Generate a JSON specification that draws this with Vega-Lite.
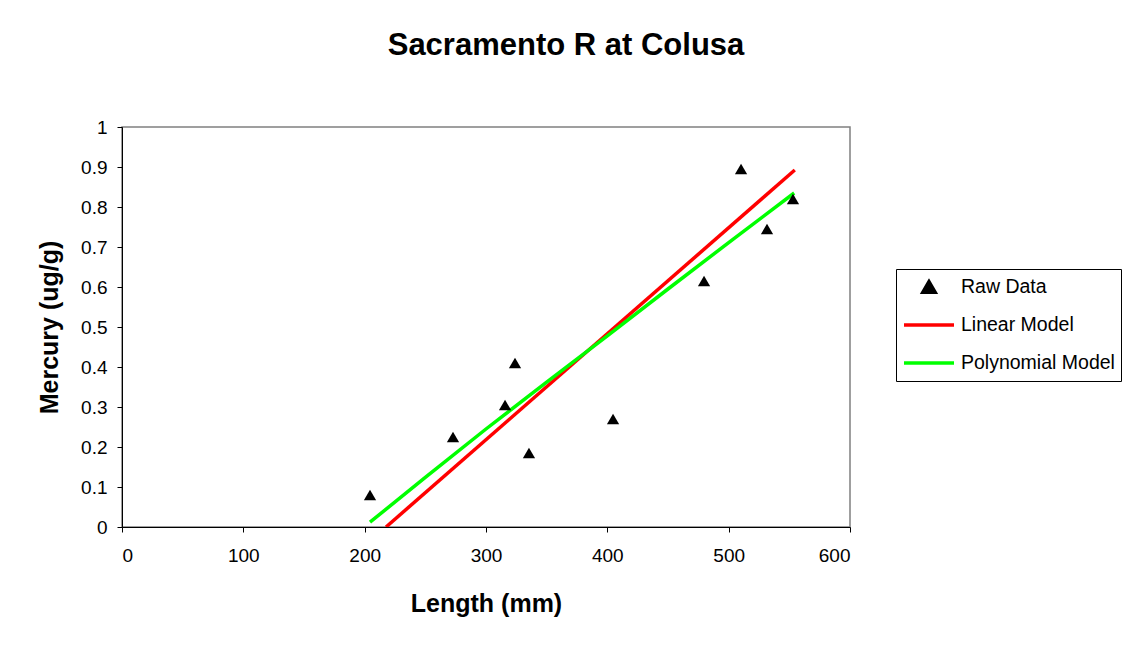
{
  "$schema": "https://vega.github.io/schema/vega-lite/v6.json",
  "width": 728,
  "height": 400,
  "autosize": {"type": "none"},
  "padding": {"left": 122, "top": 127, "right": 282, "bottom": 122},
  "background": "white",
  "config": {
    "font": "Liberation Sans",
    "view": {"stroke": "#808080", "strokeWidth": 1.5},
    "axis": {
      "grid": false,
      "domainColor": "black",
      "tickColor": "black",
      "labelColor": "black",
      "titleColor": "black",
      "labelFont": "Liberation Sans",
      "titleFont": "Liberation Sans",
      "titleFontWeight": "bold",
      "tickSize": 5
    }
  },
  "title": {
    "text": "Sacramento R at Colusa",
    "font": "Liberation Sans",
    "fontSize": 31,
    "fontWeight": "bold",
    "color": "black",
    "anchor": "middle",
    "dx": 80,
    "offset": 56
  },
  "datasets": {
    "raw": [
      {"length": 204.4, "mercury": 0.08, "series": "Raw Data"},
      {"length": 272.8, "mercury": 0.225, "series": "Raw Data"},
      {"length": 315.7, "mercury": 0.305, "series": "Raw Data"},
      {"length": 323.9, "mercury": 0.41, "series": "Raw Data"},
      {"length": 335.4, "mercury": 0.185, "series": "Raw Data"},
      {"length": 404.7, "mercury": 0.27, "series": "Raw Data"},
      {"length": 479.7, "mercury": 0.615, "series": "Raw Data"},
      {"length": 510.2, "mercury": 0.895, "series": "Raw Data"},
      {"length": 531.6, "mercury": 0.745, "series": "Raw Data"},
      {"length": 553.0, "mercury": 0.82, "series": "Raw Data"}
    ],
    "models": [
      {"length": 217.6, "mercury": 0.0, "series": "Linear Model"},
      {"length": 554.5, "mercury": 0.8925, "series": "Linear Model"},
      {"length": 204.4, "mercury": 0.012, "series": "Polynomial Model"},
      {"length": 250, "mercury": 0.124, "series": "Polynomial Model"},
      {"length": 300, "mercury": 0.245, "series": "Polynomial Model"},
      {"length": 350, "mercury": 0.362, "series": "Polynomial Model"},
      {"length": 400, "mercury": 0.478, "series": "Polynomial Model"},
      {"length": 450, "mercury": 0.595, "series": "Polynomial Model"},
      {"length": 500, "mercury": 0.711, "series": "Polynomial Model"},
      {"length": 554, "mercury": 0.835, "series": "Polynomial Model"}
    ]
  },
  "encoding": {
    "x": {
      "field": "length",
      "type": "quantitative",
      "scale": {"domain": [0, 600], "nice": false, "zero": false},
      "axis": {"title": "Length (mm)", "values": [0, 100, 200, 300, 400, 500, 600], "labelPadding": 14, "titlePadding": 26, "labelFontSize": 19, "titleFontSize": 25}
    },
    "y": {
      "field": "mercury",
      "type": "quantitative",
      "scale": {"domain": [0, 1], "nice": false},
      "axis": {"title": "Mercury (ug/g)", "values": [0, 0.1, 0.2, 0.3, 0.4, 0.5, 0.6, 0.7, 0.8, 0.9, 1], "format": ".1~f", "labelPadding": 10, "titlePadding": 18, "labelFontSize": 19, "titleFontSize": 25}
    },
    "color": {
      "field": "series",
      "type": "nominal",
      "scale": {"domain": ["Raw Data", "Linear Model", "Polynomial Model"], "range": ["black", "#ff0000", "#00ff00"]},
      "legend": {
        "title": null,
        "orient": "none",
        "legendX": 774,
        "legendY": 142,
        "strokeColor": "black",
        "fillColor": "white",
        "padding": 6,
        "clipHeight": 24,
        "labelFontSize": 19.5,
        "labelColor": "black",
        "labelFont": "Liberation Sans",
        "rowPadding": 14,
        "labelOffset": 5,
        "symbolStrokeWidth": 3,
        "encode": {
          "symbols": {
            "update": {
              "shape": {"signal": "datum.value === 'Raw Data' ? 'triangle-up' : 'stroke'"},
              "size": {"signal": "datum.value === 'Raw Data' ? 150 : 2500"},
              "fill": {"signal": "datum.value === 'Raw Data' ? 'black' : 'transparent'"},
              "stroke": {"signal": "datum.value === 'Raw Data' ? 'transparent' : (datum.value === 'Linear Model' ? '#ff0000' : '#00ff00')"},
              "strokeWidth": {"value": 3.5}
            }
          }
        }
      }
    }
  },
  "layer": [
    {
      "data": {"name": "models"},
      "mark": {"type": "line", "strokeWidth": 3.5, "clip": true},
      "encoding": {
        "detail": {"field": "series"}
      }
    },
    {
      "data": {"name": "raw"},
      "mark": {"type": "point", "filled": true, "opacity": 1, "size": 150, "shape": "triangle-up"}
    }
  ]
}
